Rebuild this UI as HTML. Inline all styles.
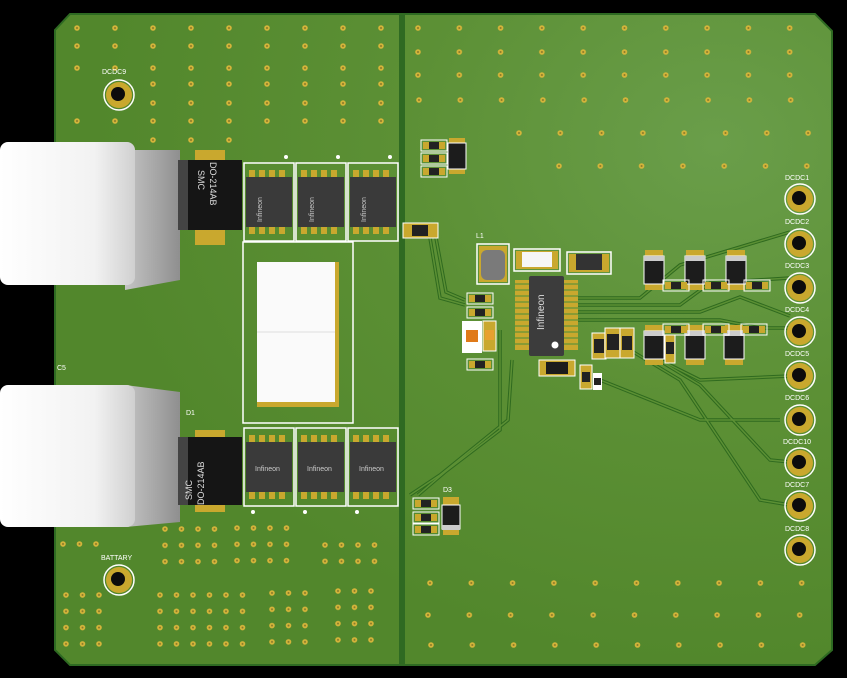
<!DOCTYPE html>
<html><head><meta charset="utf-8"><style>
html,body{margin:0;padding:0;background:#000;}
svg{display:block}
text{font-family:"Liberation Sans",sans-serif;}
</style></head><body>
<svg width="847" height="678" viewBox="0 0 847 678" xmlns="http://www.w3.org/2000/svg">
<defs>
<radialGradient id="bg" cx="0.85" cy="0.2" r="0.8">
<stop offset="0" stop-color="#6a9e4a"/><stop offset="0.5" stop-color="#5c9035"/><stop offset="1" stop-color="#52872c"/>
</radialGradient>
<g id="v"><circle r="2.8" fill="#d4b43a"/><circle r="1" fill="#8a7a2a"/></g>
<pattern id="pL" x="0" y="0" width="38" height="200" patternUnits="userSpaceOnUse"><use href="#v" x="3" y="3"/></pattern>
<pattern id="pR" x="0" y="0" width="41.3" height="200" patternUnits="userSpaceOnUse"><use href="#v" x="3" y="3"/></pattern>
<pattern id="pS" x="0" y="0" width="16.5" height="16.3" patternUnits="userSpaceOnUse"><use href="#v" x="3" y="3"/></pattern>
<linearGradient id="conn" x1="0" y1="0" x2="1" y2="0">
<stop offset="0" stop-color="#fff"/><stop offset="0.7" stop-color="#f2f2f2"/><stop offset="1" stop-color="#d0d0d0"/></linearGradient>
<linearGradient id="conn2" x1="0" y1="0" x2="1" y2="0">
<stop offset="0" stop-color="#c4c4c4"/><stop offset="1" stop-color="#8f8f8f"/></linearGradient>
<g id="res"><rect x="0" y="0" width="26" height="11" fill="none" stroke="#fff" stroke-width="1"/><rect x="2" y="2" width="6" height="7" fill="#c9a82e"/><rect x="18" y="2" width="6" height="7" fill="#c9a82e"/><rect x="8" y="2" width="10" height="7" fill="#222"/></g>
<g id="dio"><rect x="0" y="0" width="18" height="40" fill="#c9a82e"/><rect x="-1" y="6" width="20" height="28" fill="#1c1c1c" stroke="#fff" stroke-width="1"/><rect x="-1" y="6" width="20" height="5" fill="#ccc"/></g>
<g id="hole"><circle r="15" fill="none" stroke="#fff" stroke-width="1.5"/><circle r="13" fill="#c9a82e"/><circle cx="-1" cy="-1" r="7" fill="#0c0c0c"/></g>
</defs>
<rect width="847" height="678" fill="#000"/>
<polygon points="70,14 815,14 832,31 832,650 815,665 70,665 55,650 55,30" fill="url(#bg)" stroke="#2e6a22" stroke-width="2"/>
<rect x="399" y="14" width="6" height="651" fill="#2f6a22"/>
<!-- left top dots: x starts 77 -->
<g transform="translate(74,25)"><rect x="0" y="0" width="310" height="7" fill="url(#pL)"/></g>
<g transform="translate(74,43)"><rect x="0" y="0" width="310" height="7" fill="url(#pL)"/></g>
<g transform="translate(74,65)"><rect x="0" y="0" width="310" height="7" fill="url(#pL)"/></g>
<g transform="translate(150,81)"><rect x="0" y="0" width="234" height="7" fill="url(#pL)"/></g>
<g transform="translate(150,100)"><rect x="0" y="0" width="234" height="7" fill="url(#pL)"/></g>
<g transform="translate(74,118)"><rect x="0" y="0" width="310" height="7" fill="url(#pL)"/></g>
<g transform="translate(150,137)"><rect x="0" y="0" width="84" height="7" fill="url(#pL)"/></g>
<!-- left bottom dot blocks -->
<g transform="translate(162,526)"><rect width="56" height="39" fill="url(#pS)"/></g>
<g transform="translate(234,525)"><rect width="56" height="39" fill="url(#pS)"/></g>
<g transform="translate(322,542)"><rect width="56" height="23" fill="url(#pS)"/></g>
<g transform="translate(60,541)"><rect width="40" height="7" fill="url(#pS)"/></g>
<g transform="translate(63,592)"><rect width="40" height="56" fill="url(#pS)"/></g>
<g transform="translate(157,592)"><rect width="89" height="56" fill="url(#pS)"/></g>
<g transform="translate(269,590)"><rect width="40" height="56" fill="url(#pS)"/></g>
<g transform="translate(335,588)"><rect width="40" height="56" fill="url(#pS)"/></g>
<!-- right dots: x from 418 -->
<g transform="translate(415,25)"><rect width="380" height="7" fill="url(#pR)"/></g>
<g transform="translate(415,49)"><rect width="380" height="7" fill="url(#pR)"/></g>
<g transform="translate(415,72)"><rect width="380" height="7" fill="url(#pR)"/></g>
<g transform="translate(416,97)"><rect width="380" height="7" fill="url(#pR)"/></g>
<g transform="translate(516,130)"><rect width="300" height="7" fill="url(#pR)"/></g>
<g transform="translate(556,163)"><rect width="260" height="7" fill="url(#pR)"/></g>
<g transform="translate(427,580)"><rect width="380" height="7" fill="url(#pR)"/></g>
<g transform="translate(425,612)"><rect width="380" height="7" fill="url(#pR)"/></g>
<g transform="translate(428,642)"><rect width="380" height="7" fill="url(#pR)"/></g>
<!-- holes left -->
<use href="#hole" x="119" y="95"/>
<use href="#hole" x="119" y="580"/>
<text x="102" y="74" font-size="7" fill="#fff">DCDC9</text>
<text x="101" y="560" font-size="7" fill="#fff">BATTARY</text>
<text x="57" y="370" font-size="7" fill="#fff">C5</text>
<text x="186" y="415" font-size="7" fill="#fff">D1</text>
<!-- traces -->
<g id="tr" stroke="#2f6a1f" stroke-width="3.5" fill="none">
<path d="M430,238 L440,298 L465,305"/>
<path d="M436,238 L446,292 L465,300"/>
<path d="M410,495 L440,475 L508,420 L512,360"/>
<path d="M418,495 L445,472 L500,430 L500,330"/>
<path d="M578,298 H640 L680,265 L790,232"/>
<path d="M578,305 H680 L710,283 L790,278"/>
<path d="M578,312 H700 L740,297 L790,316"/>
<path d="M578,320 H720 L760,328 L790,328"/>
<path d="M630,350 L680,380 L760,500 L790,505"/>
<path d="M650,355 L700,385 L770,460 L790,462"/>
<path d="M600,380 L700,420 L780,420"/>
<path d="M660,360 L700,380 L790,376"/>
</g>
<g stroke="#5c9034" stroke-width="1.5" fill="none">
<path d="M430,238 L440,298 L465,305"/>
<path d="M436,238 L446,292 L465,300"/>
<path d="M410,495 L440,475 L508,420 L512,360"/>
<path d="M418,495 L445,472 L500,430 L500,330"/>
<path d="M578,298 H640 L680,265 L790,232"/>
<path d="M578,305 H680 L710,283 L790,278"/>
<path d="M578,312 H700 L740,297 L790,316"/>
<path d="M578,320 H720 L760,328 L790,328"/>
<path d="M630,350 L680,380 L760,500 L790,505"/>
<path d="M650,355 L700,385 L770,460 L790,462"/>
<path d="M600,380 L700,420 L780,420"/>
<path d="M660,360 L700,380 L790,376"/>
</g>
<!-- connectors -->
<polygon points="125,150 180,150 180,280 125,290" fill="url(#conn2)"/>
<rect x="0" y="142" width="135" height="143" rx="8" fill="url(#conn)"/>
<polygon points="125,385 180,392 180,522 125,527" fill="url(#conn2)"/>
<rect x="0" y="385" width="135" height="142" rx="8" fill="url(#conn)"/>
<!-- diodes -->
<rect x="195" y="150" width="30" height="95" fill="#c9a82e"/>
<rect x="178" y="160" width="64" height="70" fill="#151515"/>
<rect x="178" y="160" width="10" height="70" fill="#444"/>
<text font-size="9" fill="#ddd" transform="translate(198,170) rotate(90)" font-family="Liberation Serif">SMC</text>
<text font-size="9" fill="#ddd" transform="translate(210,162) rotate(90)" font-family="Liberation Serif">DO-214AB</text>
<rect x="195" y="430" width="30" height="82" fill="#c9a82e"/>
<rect x="178" y="437" width="64" height="68" fill="#151515"/>
<rect x="178" y="437" width="10" height="68" fill="#444"/>
<text font-size="9" fill="#ddd" transform="translate(192,500) rotate(-90)" font-family="Liberation Serif">SMC</text>
<text font-size="9" fill="#ddd" transform="translate(204,505) rotate(-90)" font-family="Liberation Serif">DO-214AB</text>
<!-- mosfets -->
<g fill="none" stroke="#fff" stroke-width="1.5">
<rect x="244" y="163" width="50" height="78"/><rect x="296" y="163" width="50" height="78"/><rect x="348" y="163" width="50" height="78"/>
<rect x="244" y="428" width="50" height="78"/><rect x="296" y="428" width="50" height="78"/><rect x="348" y="428" width="50" height="78"/>
<rect x="243" y="242" width="110" height="181"/>
</g>
<g id="mt">
<rect x="249" y="170" width="6" height="8" fill="#c9a82e"/><rect x="259" y="170" width="6" height="8" fill="#c9a82e"/><rect x="269" y="170" width="6" height="8" fill="#c9a82e"/><rect x="279" y="170" width="6" height="8" fill="#c9a82e"/>
<rect x="249" y="226" width="6" height="8" fill="#c9a82e"/><rect x="259" y="226" width="6" height="8" fill="#c9a82e"/><rect x="269" y="226" width="6" height="8" fill="#c9a82e"/><rect x="279" y="226" width="6" height="8" fill="#c9a82e"/>
<rect x="246" y="177" width="46" height="50" fill="#3a3a3a"/>
<text font-size="7" fill="#ccc" transform="translate(262,222) rotate(-90)">Infineon</text>
</g>
<use href="#mt" x="52"/><use href="#mt" x="104"/>
<g id="mb" transform="translate(0,265)">
<rect x="249" y="170" width="6" height="8" fill="#c9a82e"/><rect x="259" y="170" width="6" height="8" fill="#c9a82e"/><rect x="269" y="170" width="6" height="8" fill="#c9a82e"/><rect x="279" y="170" width="6" height="8" fill="#c9a82e"/>
<rect x="249" y="226" width="6" height="8" fill="#c9a82e"/><rect x="259" y="226" width="6" height="8" fill="#c9a82e"/><rect x="269" y="226" width="6" height="8" fill="#c9a82e"/><rect x="279" y="226" width="6" height="8" fill="#c9a82e"/>
<rect x="246" y="177" width="46" height="50" fill="#3a3a3a"/>
<text x="255" y="206" font-size="7" fill="#ccc">Infineon</text>
</g>
<use href="#mb" x="52"/><use href="#mb" x="104"/>
<g fill="#fff"><circle cx="286" cy="157" r="2"/><circle cx="338" cy="157" r="2"/><circle cx="390" cy="157" r="2"/><circle cx="253" cy="512" r="2"/><circle cx="305" cy="512" r="2"/><circle cx="357" cy="512" r="2"/></g>
<!-- inductor -->
<rect x="257" y="262" width="82" height="145" fill="#c9a82e"/>
<rect x="257" y="262" width="78" height="140" fill="#fafafa"/>
<line x1="257" y1="332" x2="335" y2="332" stroke="#ddd"/>
<!-- IC -->
<g fill="#c9a82e">
<rect x="515" y="280" width="15" height="70"/><rect x="563" y="280" width="15" height="70"/>
</g>
<g stroke="#5f9338" stroke-width="1.2">
<line x1="515" y1="284" x2="530" y2="284"/><line x1="515" y1="290" x2="530" y2="290"/><line x1="515" y1="296" x2="530" y2="296"/><line x1="515" y1="302" x2="530" y2="302"/><line x1="515" y1="308" x2="530" y2="308"/><line x1="515" y1="314" x2="530" y2="314"/><line x1="515" y1="320" x2="530" y2="320"/><line x1="515" y1="326" x2="530" y2="326"/><line x1="515" y1="332" x2="530" y2="332"/><line x1="515" y1="338" x2="530" y2="338"/><line x1="515" y1="344" x2="530" y2="344"/>
<line x1="563" y1="284" x2="578" y2="284"/><line x1="563" y1="290" x2="578" y2="290"/><line x1="563" y1="296" x2="578" y2="296"/><line x1="563" y1="302" x2="578" y2="302"/><line x1="563" y1="308" x2="578" y2="308"/><line x1="563" y1="314" x2="578" y2="314"/><line x1="563" y1="320" x2="578" y2="320"/><line x1="563" y1="326" x2="578" y2="326"/><line x1="563" y1="332" x2="578" y2="332"/><line x1="563" y1="338" x2="578" y2="338"/><line x1="563" y1="344" x2="578" y2="344"/>
</g>
<rect x="529" y="276" width="35" height="80" rx="2" fill="#3c3c3c"/>
<text font-size="10" fill="#ddd" transform="translate(544,330) rotate(-90)">Infineon</text>
<circle cx="555" cy="345" r="3.5" fill="#fff"/>
<!-- L1 etc -->
<rect x="477" y="244" width="32" height="40" fill="none" stroke="#fff" stroke-width="1.5"/>
<rect x="479" y="246" width="28" height="36" fill="#c9a82e"/>
<rect x="481" y="250" width="24" height="30" rx="6" fill="#7a7a7a"/>
<text x="476" y="238" font-size="7" fill="#fff">L1</text>
<rect x="514" y="249" width="46" height="22" fill="none" stroke="#fff" stroke-width="1.5"/>
<rect x="516" y="251" width="42" height="18" fill="#c9a82e"/>
<rect x="522" y="252" width="30" height="15" fill="#f6f6f6"/>
<rect x="567" y="252" width="44" height="22" fill="none" stroke="#fff" stroke-width="1.5"/>
<rect x="569" y="254" width="40" height="18" fill="#c9a82e"/>
<rect x="576" y="254" width="26" height="16" fill="#333"/>
<!-- small parts -->
<use href="#res" x="421" y="140"/><use href="#res" x="421" y="153"/><use href="#res" x="421" y="166"/>
<rect x="449" y="138" width="16" height="36" fill="#c9a82e"/><rect x="448" y="143" width="18" height="26" fill="#1c1c1c" stroke="#fff"/>
<rect x="403" y="223" width="35" height="15" fill="#c9a82e" stroke="#fff"/><rect x="412" y="225" width="16" height="11" fill="#222"/>
<use href="#res" x="467" y="293"/><use href="#res" x="467" y="307"/>
<rect x="462" y="321" width="20" height="32" fill="#fff"/><rect x="466" y="330" width="12" height="12" fill="#e07a1a"/>
<rect x="483" y="321" width="13" height="30" fill="#c9a82e" stroke="#fff"/><rect x="485" y="330" width="9" height="10" fill="#e8a030"/>
<use href="#res" x="467" y="359"/>
<rect x="539" y="360" width="36" height="16" fill="#c9a82e" stroke="#fff"/><rect x="546" y="362" width="22" height="12" fill="#1c1c1c"/>
<rect x="592" y="333" width="14" height="26" fill="#c9a82e" stroke="#fff"/><rect x="594" y="339" width="10" height="14" fill="#222"/>
<rect x="605" y="328" width="16" height="30" fill="#c9a82e" stroke="#fff"/><rect x="607" y="334" width="12" height="16" fill="#222"/>
<rect x="620" y="328" width="14" height="30" fill="#c9a82e" stroke="#fff"/><rect x="622" y="336" width="10" height="14" fill="#222"/>
<rect x="580" y="365" width="12" height="24" fill="#c9a82e" stroke="#fff"/><rect x="582" y="372" width="8" height="10" fill="#222"/>
<rect x="593" y="373" width="9" height="17" fill="#fff"/><rect x="594" y="378" width="7" height="7" fill="#222"/>
<use href="#dio" x="645" y="250"/><use href="#dio" x="686" y="250"/><use href="#dio" x="727" y="250"/>
<use href="#dio" x="645" y="325"/><use href="#dio" x="686" y="325"/><use href="#dio" x="725" y="325"/>
<use href="#res" x="663" y="280"/><use href="#res" x="703" y="280"/><use href="#res" x="744" y="280"/>
<use href="#res" x="663" y="324"/><use href="#res" x="703" y="324"/><use href="#res" x="741" y="324"/>
<rect x="665" y="335" width="10" height="28" fill="#c9a82e" stroke="#fff"/><rect x="666" y="342" width="8" height="12" fill="#222"/>
<use href="#res" x="413" y="498"/><use href="#res" x="413" y="512"/><use href="#res" x="413" y="524"/>
<rect x="443" y="497" width="16" height="38" fill="#c9a82e"/><rect x="442" y="505" width="18" height="24" fill="#1c1c1c" stroke="#fff"/><rect x="442" y="525" width="18" height="5" fill="#ccc"/>
<text x="443" y="492" font-size="7" fill="#fff">D3</text>
<!-- right connectors -->
<use href="#hole" x="800" y="199"/><use href="#hole" x="800" y="244"/><use href="#hole" x="800" y="288"/><use href="#hole" x="800" y="332"/><use href="#hole" x="800" y="376"/><use href="#hole" x="800" y="420"/><use href="#hole" x="800" y="463"/><use href="#hole" x="800" y="506"/><use href="#hole" x="800" y="550"/>
<g font-size="7" fill="#fff">
<text x="785" y="180">DCDC1</text><text x="785" y="224">DCDC2</text><text x="785" y="268">DCDC3</text><text x="785" y="312">DCDC4</text><text x="785" y="356">DCDC5</text><text x="785" y="400">DCDC6</text><text x="783" y="444">DCDC10</text><text x="785" y="487">DCDC7</text><text x="785" y="531">DCDC8</text>
</g>
</svg>
</body></html>
